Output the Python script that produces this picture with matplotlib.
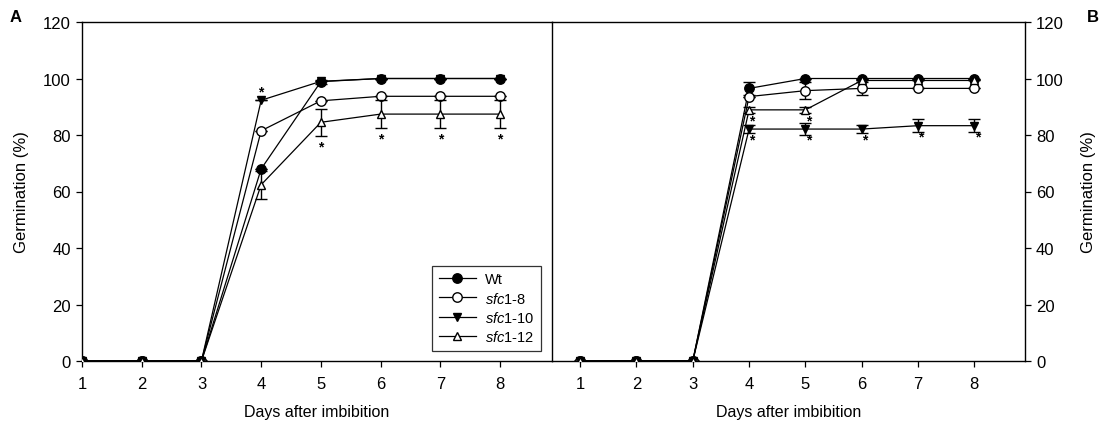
import matplotlib
matplotlib.use("Agg")
import matplotlib.pyplot as plt
from matplotlib.lines import Line2D

plt.rcParams['font.family'] = ['Liberation Sans', 'DejaVu Sans']
plt.rcParams['mathtext.fontset'] = 'custom'
plt.rcParams['mathtext.rm'] = 'Liberation Sans'
plt.rcParams['mathtext.it'] = 'Liberation Sans:italic'
plt.rcParams['mathtext.bf'] = 'Liberation Sans:bold'

days = [1, 2, 3, 4, 5, 6, 7, 8]
series_names = ["Wt", "sfc1-8", "sfc1-10", "sfc1-12"]
legend_labels = ["Wt", r"$\it{sfc1}$-8", r"$\it{sfc1}$-10", r"$\it{sfc1}$-12"]

# Panel A
a_wt = [0, 0, 0, 68, 98.9, 100, 100, 100]
a_wt_err = [0, 0, 0, 0, 0.7, 0, 0, 0]
a_s8 = [0, 0, 0, 81.5, 92.1, 93.7, 93.7, 93.7]
a_s8_err = [0, 0, 0, 0, 0, 0, 0, 0]
a_s10 = [0, 0, 0, 92.3, 99.0, 100, 100, 100]
a_s10_err = [0, 0, 0, 0, 0, 0, 0, 0]
a_s12 = [0, 0, 0, 62.4, 84.5, 87.4, 87.4, 87.4]
a_s12_err = [0, 0, 0, 5.0, 4.7, 5.0, 5.0, 5.0]

# Panel B
b_wt = [0, 0, 0, 96.5, 100, 100, 100, 100]
b_wt_err = [0, 0, 0, 2.3, 0, 0, 0, 0]
b_s8 = [0, 0, 0, 93.6, 95.7, 96.5, 96.5, 96.5]
b_s8_err = [0, 0, 0, 0, 3.0, 2.3, 0, 0]
b_s10 = [0, 0, 0, 82.1, 82.1, 82.1, 83.3, 83.3]
b_s10_err = [0, 0, 0, 1.5, 2.0, 1.5, 2.4, 2.4]
b_s12 = [0, 0, 0, 88.9, 88.9, 99.3, 99.3, 99.3]
b_s12_err = [0, 0, 0, 1.0, 1.0, 0, 0, 0]

# significance stars: (series index, day, placement)
a_stars = [(2, 4, "above"), (3, 5, "below_far"), (3, 6, "below_far"), (3, 7, "below_far"), (3, 8, "below_far")]
b_stars = [(3, 4, "below"), (3, 5, "below"), (2, 4, "below"), (2, 5, "below"),
           (2, 6, "below"), (2, 7, "below"), (2, 8, "below")]

yticks = [0, 20, 40, 60, 80, 100, 120]

styles = [
    dict(marker='o', mfc='black', mec='black', ms=6.8),
    dict(marker='o', mfc='white', mec='black', ms=6.8),
    dict(marker='v', mfc='black', mec='black', ms=6.0),
    dict(marker='^', mfc='white', mec='black', ms=6.0),
]

fig = plt.figure(figsize=(11.04, 4.27), dpi=100)
axA = fig.add_axes([82/1104, 65/427, (552-82)/1104, (362-23)/427])
axB = fig.add_axes([552/1104, 65/427, (1025-552)/1104, (362-23)/427])

def draw(ax, vals, errs, stars):
    handles = []
    for i, (v, e) in enumerate(zip(vals, errs)):
        st = styles[i]
        ax.errorbar(days, v, yerr=e, color='black', lw=0.9, mew=1.0,
                    capsize=4, capthick=1.0, elinewidth=1.0, zorder=3 + i, **st)
        handles.append(Line2D([], [], color='black', lw=0.9, mew=1.0, **st))
    for si, d, place in stars:
        y = vals[si][days.index(d)]
        if place == "above":
            off = (0, 6)
        elif place == "below_far":
            off = (0, -17.5)
        else:
            off = (2.2, -7.8)
        ax.annotate('*', (d, y), xytext=off, textcoords='offset points',
                    ha='center', va='center', fontsize=10, fontweight='bold', zorder=10)
    ax.set_ylim(0, 120)
    ax.set_yticks(yticks)
    ax.set_xticks(days)
    ax.tick_params(direction='out', length=4, width=0.9, labelsize=12, pad=7)
    ax.set_xlabel("Days after imbibition", fontsize=11.5, labelpad=9)
    for s in ax.spines.values():
        s.set_linewidth(1.0)
    return handles

hA = draw(axA, [a_wt, a_s8, a_s10, a_s12], [a_wt_err, a_s8_err, a_s10_err, a_s12_err], a_stars)
hB = draw(axB, [b_wt, b_s8, b_s10, b_s12], [b_wt_err, b_s8_err, b_s10_err, b_s12_err], b_stars)

axA.set_xlim(1, 8.87)
axA.spines['right'].set_visible(False)
axA.set_ylabel("Germination (%)", fontsize=12, labelpad=10)
axA.tick_params(axis='y', pad=4)

axB.set_xlim(0.5, 8.9)
axB.yaxis.tick_right()
axB.yaxis.set_label_position('right')
axB.set_ylabel("Germination (%)", fontsize=12, labelpad=12)
axB.tick_params(axis='y', left=False, pad=4)

leg = axA.legend(hA, legend_labels, loc='lower right', bbox_to_anchor=(0.977, 0.03),
                 frameon=True, fancybox=False, edgecolor='black', fontsize=10.5,
                 handlelength=2.6, handletextpad=0.6, borderpad=0.45, labelspacing=0.3,
                 borderaxespad=0.0)
leg.get_frame().set_linewidth(0.9)
leg.set_zorder(20)

fig.text(10/1104, 1 - 18/427, "A", fontsize=12, fontweight='bold', ha='left', va='center')
fig.text(1087/1104, 1 - 18/427, "B", fontsize=12, fontweight='bold', ha='left', va='center')

fig.savefig("out.png", dpi=100)
